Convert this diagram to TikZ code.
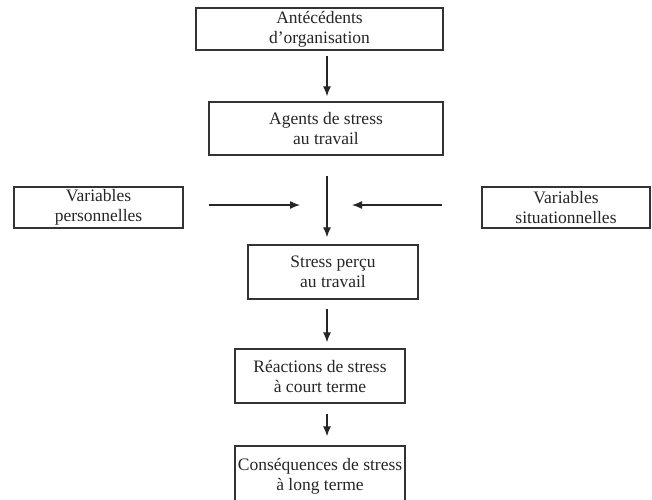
\documentclass[tikz,border=0pt]{standalone}
\usepackage{fontspec}
\setmainfont{Liberation Serif}
\usetikzlibrary{arrows.meta,calc}
\tikzset{
  box/.style={draw=black!80, line width=1.4pt, fill=white, inner sep=0pt, align=center,
    text=black!85, font=\fontsize{17.5}{20}\selectfont},
  arr/.style={draw=black!85, line width=1.3pt, -{Latex[length=10pt,width=8pt]}}
}
\begin{document}
\begin{tikzpicture}[x=1pt,y=-1pt]
\useasboundingbox (0,0) rectangle (652,499);
\node[box, minimum width=247pt, minimum height=42pt] (b1) at (319.5,29) {Antécédents\\d’organisation};
\node[box, minimum width=234pt, minimum height=53pt] (b2) at (326,128.5) {Agents de stress\\au travail};
\node[box, minimum width=169pt, minimum height=41pt] (b3) at (98.5,207.5) {Variables\\personnelles};
\node[box, minimum width=168pt, minimum height=41pt] (b4) at (566,207.5) {Variables\\situationnelles};
\node[box, minimum width=170pt, minimum height=54pt] (b5) at (333,272) {Stress perçu\\au travail};
\node[box, minimum width=170pt, minimum height=54pt] (b6) at (320,376) {Réactions de stress\\à court terme};
\node[box, minimum width=170pt, minimum height=60pt] (b7) at (320,476) {Conséquences de stress\\à long terme};
\coordinate (ax) at (327,0);
\coordinate (ay) at (0,205);
\coordinate (jn) at (327,205);
\draw[arr] ([yshift=-5pt]b1.south -| ax) -- ([yshift=5pt]b2.north -| ax);
\draw[arr] ([yshift=-20pt]b2.south -| ax) -- ([yshift=7pt]b5.north -| ax);
\draw[arr] ([xshift=25pt]b3.east |- ay) -- ([xshift=-27pt]jn);
\draw[arr] ([xshift=-39pt]b4.west |- ay) -- ([xshift=25pt]jn);
\draw[arr] ([yshift=-9pt]b5.south -| ax) -- ([yshift=6pt]b6.north -| ax);
\draw[arr] ([yshift=-10pt]b6.south -| ax) -- ([yshift=9pt]b7.north -| ax);
\end{tikzpicture}
\end{document}
